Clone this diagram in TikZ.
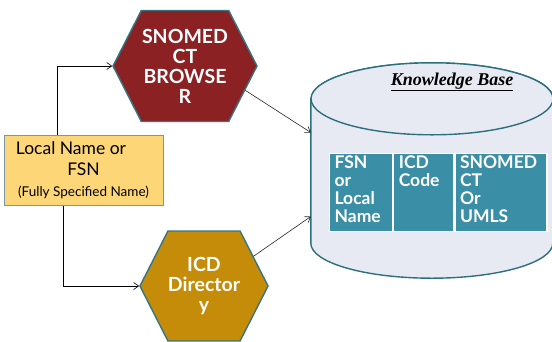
\documentclass[tikz,border=0pt]{standalone}
\usepackage{fontspec}
\setmainfont{Lato}
\newfontfamily\kbfont{Liberation Serif}
\usetikzlibrary{shapes.symbols,arrows.meta,positioning,calc}
\definecolor{hexline}{RGB}{52,118,132}
\definecolor{snomedred}{RGB}{140,33,36}
\definecolor{icdgold}{RGB}{196,140,8}
\definecolor{nameyellow}{RGB}{253,214,120}
\definecolor{nameline}{RGB}{120,150,165}
\definecolor{kbfill}{RGB}{231,233,243}
\definecolor{kbline}{RGB}{44,112,126}
\definecolor{cellteal}{RGB}{58,143,166}
\begin{document}
\begin{tikzpicture}[x=1pt,y=-1pt,
  hexa/.style={signal,signal to=east and west,signal pointer angle=126,draw=hexline,line width=1.4pt,
    text=white,font=\bfseries\fontsize{19.5}{20}\selectfont,align=center,inner sep=0pt},
  cell/.style={draw=white,line width=1.2pt,fill=cellteal,text=white,font=\bfseries\fontsize{17.5}{18}\selectfont,
    align=left,inner xsep=5pt,inner ysep=3pt,text height=12pt,text depth=60pt,anchor=north west},
  cyl/.style={draw=kbline,line width=1.4pt,fill=kbfill},
  elbow/.style={-{Straight Barb[length=5pt,width=7pt]},line width=0.6pt},
  slant/.style={-{Straight Barb[length=5pt,width=7pt]},line width=0.6pt,draw=black!85}]
\useasboundingbox (0,0) rectangle (552,341);
\node[hexa,fill=snomedred,minimum width=144pt,minimum height=111pt](snomed) at (185,66) {SNOMED\\CT\\BROWSE\\R};
\node[hexa,fill=icdgold,minimum width=128pt,minimum height=110pt](icd) at (204,286) {ICD\\Director\\y};
\node[draw=nameline,line width=1pt,fill=nameyellow,minimum width=159pt,minimum height=70pt,align=center,
  font=\fontsize{17.5}{21}\selectfont,inner sep=0pt](namebox) at (83.5,170)
  {Local Name or\hspace*{25pt}\\FSN\hspace*{41pt}\\{\fontsize{13.5}{15}\selectfont(Fully Specified Name)}};
\node[minimum width=242pt,minimum height=215pt,inner sep=0pt](kb) at (432,170.5) {};
\draw[cyl] ($(kb.north west)+(0,36)$) -- ($(kb.south west)+(0,-35)$)
  arc[start angle=180,end angle=360,x radius=121pt,y radius=35pt]
  -- ($(kb.north east)+(0,36)$) arc[start angle=0,end angle=180,x radius=121pt,y radius=36pt] -- cycle;
\draw[cyl] ($(kb.north)+(0,36)$) ellipse[x radius=121pt,y radius=36pt];
\node[font=\kbfont\bfseries\itshape\fontsize{18}{20}\selectfont](kbtitle) at ($(kb.north)+(20,19)$) {\underline{Knowledge Base}};
\node[cell,text width=53pt](fsncol) at (329,153) {FSN\\or\\Local\\Name};
\node[cell,text width=50pt,right=0pt of fsncol](icdcol) {ICD\\Code};
\node[cell,text width=82pt,right=0pt of icdcol](sctcol) {SNOMED\\CT\\Or\\UMLS};
\draw[elbow] ($(namebox.north)+(-26,0)$) |- (snomed.west);
\draw[elbow] ($(namebox.south)+(-20,0)$) |- (icd.west);
\draw[slant] (snomed.-22) -- ($(kb.west)+(0,-38)$);
\draw[slant] (icd.31) -- ($(kb.west)+(0,46)$);
\end{tikzpicture}
\end{document}
